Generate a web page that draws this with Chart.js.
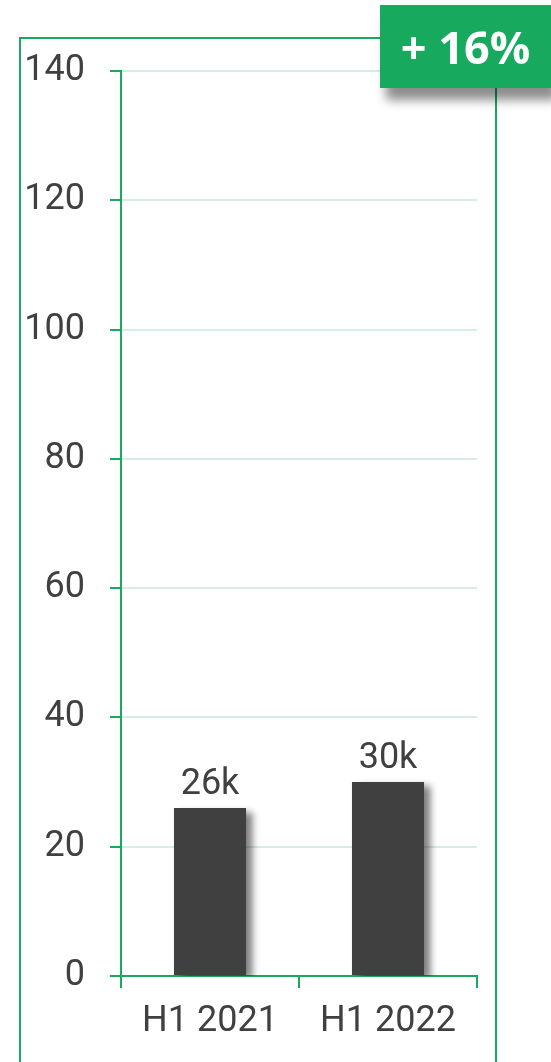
<!DOCTYPE html>
<html>
<head>
<meta charset="utf-8">
<script src="https://cdn.jsdelivr.net/npm/chart.js@4"></script>
<style>
  html, body { margin: 0; padding: 0; background: #fff; }
  body { width: 551px; height: 1062px; position: relative; overflow: hidden; }
  #frame {
    position: absolute; left: 19px; top: 37px; width: 474px; height: 1100px;
    border: 2px solid #19aa5e; border-bottom: none;
  }
  #wrap { position: absolute; left: 0; top: 0; width: 551px; height: 1062px; }
  #badge {
    position: absolute; left: 380px; top: 5px; width: 171px; height: 83px;
    background: #17a95e;
    box-shadow: 6px 12px 10px rgba(0, 0, 0, 0.45);
  }
  #badge span {
    position: absolute; left: 0; right: 0; top: 11px;
    color: #fff; text-align: center; line-height: 83px;
    font: 700 45px "Open Sans", sans-serif;
  }
</style>
</head>
<body>
<div id="frame"></div>
<div id="wrap"><canvas id="chart"></canvas></div>
<div id="badge"><span>+ 16%</span></div>
<script>
// H1 volumes, thousands
const CATEGORIES = ["H1 2021", "H1 2022"];
const VALUES = [26, 30];
const VALUE_LABELS = ["26k", "30k"];
const Y_MIN = 0;
const Y_MAX = 140;
const Y_STEP = 20;

const GREEN = "#19aa5e";
const GRID = "#d4efe2";
const INK = "#404040";
const FONT = { family: "Roboto", size: 36 };

// soft drop shadow under the bars
const barShadow = {
  id: "barShadow",
  beforeDatasetsDraw(chart) {
    const ctx = chart.ctx;
    ctx.save();
    ctx.shadowColor = "rgba(0, 0, 0, 0.5)";
    ctx.shadowOffsetX = 7;
    ctx.shadowOffsetY = 4;
    ctx.shadowBlur = 7;
  },
  afterDatasetsDraw(chart) {
    chart.ctx.restore();
  }
};

// "26k" / "30k" above each bar
const valueLabels = {
  id: "valueLabels",
  afterDatasetsDraw(chart) {
    const ctx = chart.ctx;
    const meta = chart.getDatasetMeta(0);
    ctx.save();
    ctx.font = `${FONT.size}px ${FONT.family}`;
    ctx.fillStyle = INK;
    ctx.textAlign = "center";
    ctx.textBaseline = "alphabetic";
    meta.data.forEach((bar, i) => {
      ctx.fillText(VALUE_LABELS[i], bar.x, bar.y - 14);
    });
    ctx.restore();
  }
};

const chart = new Chart(document.getElementById("chart"), {
  type: "bar",
  data: {
    labels: CATEGORIES,
    datasets: [{
      data: VALUES,
      backgroundColor: INK,
      borderWidth: 0,
      barPercentage: 0.405,
      categoryPercentage: 1
    }]
  },
  options: {
    responsive: true,
    maintainAspectRatio: false,
    animation: false,
    layout: { padding: { top: 71, right: 74, left: 0, bottom: 0 } },
    plugins: { legend: { display: false }, tooltip: { enabled: false } },
    scales: {
      x: {
        afterFit(scale) { scale.height = 86; },
        border: { color: GREEN, width: 2 },
        grid: { drawOnChartArea: false, tickColor: GREEN, tickLength: 12, lineWidth: 2 },
        ticks: { color: INK, font: FONT, padding: 12 }
      },
      y: {
        min: Y_MIN,
        max: Y_MAX,
        afterFit(scale) { scale.width = 121; },
        border: { color: GREEN, width: 2 },
        grid: { color: GRID, tickColor: GREEN, tickLength: 11, lineWidth: 2 },
        ticks: { stepSize: Y_STEP, color: INK, font: FONT, padding: 25 }
      }
    }
  },
  plugins: [barShadow, valueLabels]
});
</script>
</body>
</html>
